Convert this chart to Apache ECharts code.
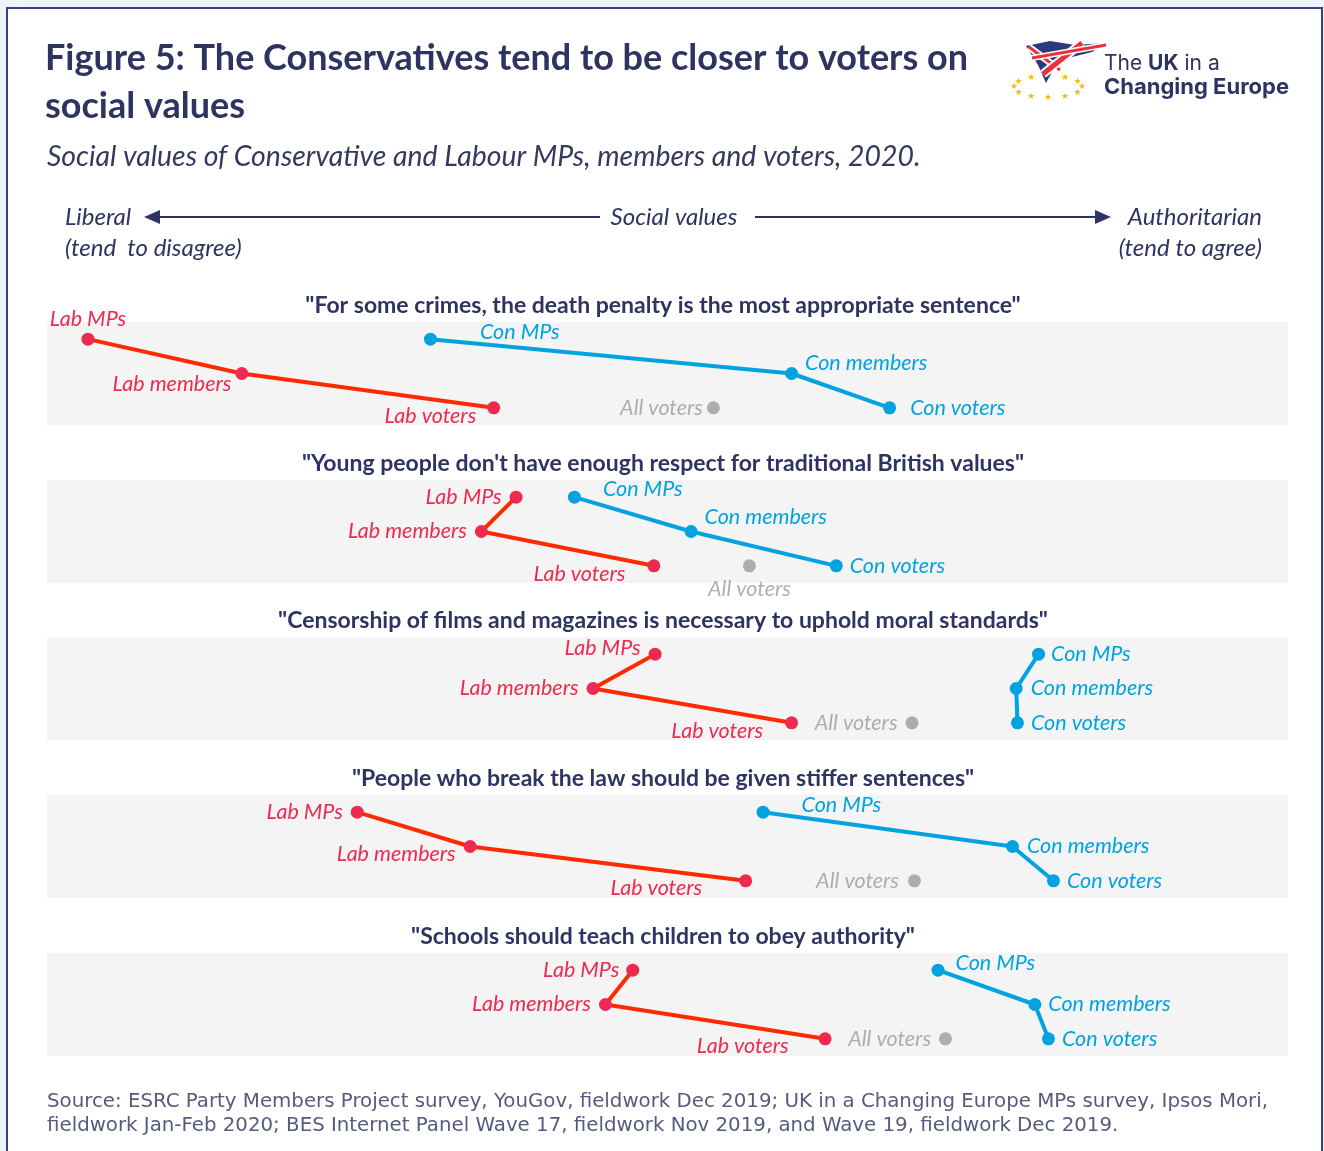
<!DOCTYPE html>
<html>
<head>
<meta charset="utf-8">
<title>Figure 5: Social values</title>
<script src="https://cdn.jsdelivr.net/npm/echarts@6.0.0/dist/echarts.min.js"></script>
<style>
  html, body { margin: 0; padding: 0; background: #eef4fc; }
  #chart { width: 1324px; height: 1151px; }
</style>
</head>
<body>
<div id="chart"></div>
<script>
// Survey statements, one panel each
const questions = [
  '"For some crimes, the death penalty is the most appropriate sentence"',
  '"Young people don\'t have enough respect for traditional British values"',
  '"Censorship of films and magazines is necessary to uphold moral standards"',
  '"People who break the law should be given stiffer sentences"',
  '"Schools should teach children to obey authority"'
];
// Rows within each panel
const groups = ['MPs', 'members', 'voters'];
// Position on the liberal (0) to authoritarian (100) scale: MPs, members, voters
const labScores = [
  [3.3, 15.7, 36.0],
  [37.8, 35.0, 48.9],
  [49.0, 44.0, 60.0],
  [25.0, 34.1, 56.3],
  [47.2, 45.0, 62.7]
];
const conScores = [
  [30.9, 60.0, 67.9],
  [42.5, 51.9, 63.6],
  [79.9, 78.1, 78.2],
  [57.7, 77.8, 81.1],
  [71.8, 79.6, 80.7]
];
const allVoterScores = [53.7, 56.6, 69.7, 69.9, 72.4];

// Label placement for each point: [position, distance, dx, dy]
const labLabelPlace = [
  [['top', 3, 0, 0], ['left', 4, 0, 11], ['left', 11, 0, 8]],
  [['left', 8, 0, 0], ['left', 8, 0, 0], ['left', 22, 0, 8]],
  [['left', 8, 0, -6], ['left', 8, 0, 0], ['left', 22, 0, 8]],
  [['left', 8, 0, 0], ['left', 8, 0, 8], ['left', 37, 0, 7]],
  [['left', 7, 0, 0], ['left', 8, 0, 0], ['left', 30, 0, 7]]
];
const conLabelPlace = [
  [['right', 43, 0, -7], ['right', 7, 0, -10], ['right', 14, 0, 0]],
  [['right', 22, 0, -8], ['right', 7, 0, -14], ['right', 7, 0, 0]],
  [['right', 6, 0, 0], ['right', 8, 0, 0], ['right', 7, 0, 0]],
  [['right', 32, 0, -7], ['right', 8, 0, 0], ['right', 7, 0, 0]],
  [['right', 11, 0, -7], ['right', 7, 0, 0], ['right', 7, 0, 0]]
];
const allLabelPlace = [
  ['left', 4, 0, 0], ['bottom', 6, 0, 0], ['left', 8, 0, 0], ['left', 9, 0, 0], ['left', 8, 0, 0]
];

const NAVY = '#2e3462';
const LAB_DOT = '#ee2a50';
const LAB_LINE = '#ff2a00';
const CON = '#00a3e0';
const GREY = '#9b9b9b';
const LABEL_FONT = 'Lato, "Open Sans", sans-serif';

const BAND_LEFT = 47, BAND_RIGHT = 36, BAND_H = 103;
const bandTops = [322, 480, 637, 795, 953];

function makeLabel(place, text, color) {
  return {
    show: true,
    position: place[0],
    distance: place[1],
    offset: [place[2], place[3]],
    formatter: text,
    color: color,
    fontFamily: LABEL_FONT,
    fontStyle: 'italic',
    fontSize: 21.5
  };
}

const grids = [], xAxes = [], yAxes = [], series = [];
questions.forEach((q, i) => {
  grids.push({
    left: BAND_LEFT, right: BAND_RIGHT, top: bandTops[i], height: BAND_H,
    show: true, backgroundColor: '#f4f4f4', borderWidth: 0
  });
  xAxes.push({ gridIndex: i, type: 'value', min: 0, max: 100, show: false });
  yAxes.push({ gridIndex: i, type: 'category', data: groups, inverse: true, show: false });

  series.push({
    name: 'Labour', type: 'line', xAxisIndex: i, yAxisIndex: i,
    symbol: 'circle', symbolSize: 13, silent: true, animation: false,
    lineStyle: { color: LAB_LINE, width: 4 },
    itemStyle: { color: LAB_DOT },
    data: groups.map((g, k) => ({
      value: [labScores[i][k], g],
      label: makeLabel(labLabelPlace[i][k], 'Lab ' + g, LAB_DOT)
    }))
  });
  series.push({
    name: 'Conservative', type: 'line', xAxisIndex: i, yAxisIndex: i,
    symbol: 'circle', symbolSize: 13, silent: true, animation: false,
    lineStyle: { color: CON, width: 4 },
    itemStyle: { color: CON },
    data: groups.map((g, k) => ({
      value: [conScores[i][k], g],
      label: makeLabel(conLabelPlace[i][k], 'Con ' + g, CON)
    }))
  });
  series.push({
    name: 'All voters', type: 'scatter', xAxisIndex: i, yAxisIndex: i,
    symbol: 'circle', symbolSize: 13, silent: true, animation: false,
    itemStyle: { color: GREY },
    data: [{
      value: [allVoterScores[i], 'voters'],
      label: makeLabel(allLabelPlace[i], 'All voters', GREY)
    }]
  });
});

// Panel headings, page text, axis arrows and logo
const HEAD_FONT = 'italic 24px Lato, sans-serif';
const graphics = [
  { type: 'rect', z: -10, shape: { x: 7, y: 8, width: 1315, height: 1200 },
    style: { fill: '#ffffff', stroke: '#3b3d86', lineWidth: 2 } },
  { type: 'text', x: 45, y: 58, style: { text: 'Figure 5: The Conservatives tend to be closer to voters on',
      fill: NAVY, font: 'bold 36px Lato, sans-serif', verticalAlign: 'middle' } },
  { type: 'text', x: 45, y: 106, style: { text: 'social values',
      fill: NAVY, font: 'bold 36px Lato, sans-serif', verticalAlign: 'middle' } },
  { type: 'text', x: 47, y: 157, style: { text: 'Social values of Conservative and Labour MPs, members and voters, 2020.',
      fill: '#34395e', font: 'italic 28.4px Lato, sans-serif', verticalAlign: 'middle' } },

  { type: 'text', x: 65, y: 217, style: { text: 'Liberal', fill: NAVY, font: HEAD_FONT, verticalAlign: 'middle' } },
  { type: 'text', x: 65, y: 248, style: { text: '(tend  to disagree)', fill: NAVY, font: HEAD_FONT, verticalAlign: 'middle' } },
  { type: 'text', x: 674, y: 217, style: { text: 'Social values', fill: NAVY, font: HEAD_FONT, align: 'center', verticalAlign: 'middle' } },
  { type: 'text', x: 1262, y: 217, style: { text: 'Authoritarian', fill: NAVY, font: HEAD_FONT, align: 'right', verticalAlign: 'middle' } },
  { type: 'text', x: 1262, y: 248, style: { text: '(tend to agree)', fill: NAVY, font: HEAD_FONT, align: 'right', verticalAlign: 'middle' } },
  { type: 'line', shape: { x1: 156, y1: 217, x2: 600, y2: 217 }, style: { stroke: NAVY, lineWidth: 2 } },
  { type: 'polygon', shape: { points: [[144, 217], [160, 210], [160, 224]] }, style: { fill: NAVY } },
  { type: 'line', shape: { x1: 755, y1: 217, x2: 1098, y2: 217 }, style: { stroke: NAVY, lineWidth: 2 } },
  { type: 'polygon', shape: { points: [[1111, 217], [1095, 210], [1095, 224]] }, style: { fill: NAVY } },

  { type: 'text', x: 47, y: 1102, style: { text: 'Source: ESRC Party Members Project survey, YouGov, fieldwork Dec 2019; UK in a Changing Europe MPs survey, Ipsos Mori,',
      fill: '#565b7e', font: '19.8px "DejaVu Sans", sans-serif', verticalAlign: 'middle' } },
  { type: 'text', x: 47, y: 1126, style: { text: 'fieldwork Jan-Feb 2020; BES Internet Panel Wave 17, fieldwork Nov 2019, and Wave 19, fieldwork Dec 2019.',
      fill: '#565b7e', font: '19.8px "DejaVu Sans", sans-serif', verticalAlign: 'middle' } }
];

questions.forEach((q, i) => {
  graphics.push({ type: 'text', x: 663, y: bandTops[i] - 16,
    style: { text: q, fill: NAVY, font: 'bold 23px Lato, sans-serif', align: 'center', verticalAlign: 'middle' } });
});

// Logo: ring of stars under a waving flag, with the wordmark beside it
for (let k = 0; k < 12; k++) {
  const a = k * Math.PI / 6;
  graphics.push({ type: 'text', x: 1048 + 34 * Math.cos(a), y: 87 + 11 * Math.sin(a),
    style: { text: '\u2605', fill: '#f5b720', font: '9px "DejaVu Sans"', align: 'center', verticalAlign: 'middle' } });
}
graphics.push(
  { type: 'polygon', shape: { points: [[1026, 46], [1050, 41], [1075, 45], [1107, 43], [1092, 52], [1068, 58], [1053, 70], [1046, 83], [1038, 65]] },
    style: { fill: '#2a3a7c' } },
  { type: 'line', shape: { x1: 1029, y1: 47, x2: 1060, y2: 70 }, style: { stroke: '#fff', lineWidth: 7 } },
  { type: 'line', shape: { x1: 1029, y1: 47, x2: 1060, y2: 70 }, style: { stroke: '#e8313b', lineWidth: 3 } },
  { type: 'line', shape: { x1: 1043, y1: 74, x2: 1082, y2: 43 }, style: { stroke: '#fff', lineWidth: 9 } },
  { type: 'line', shape: { x1: 1043, y1: 74, x2: 1082, y2: 43 }, style: { stroke: '#e8313b', lineWidth: 5 } },
  { type: 'line', shape: { x1: 1032, y1: 58, x2: 1106, y2: 45 }, style: { stroke: '#fff', lineWidth: 6 } },
  { type: 'line', shape: { x1: 1032, y1: 58, x2: 1106, y2: 45 }, style: { stroke: '#e8313b', lineWidth: 3 } },
  { type: 'text', x: 1104, y: 64, style: {
      text: '{n|The }{b|UK}{n| in a}', verticalAlign: 'middle',
      rich: {
        n: { fill: NAVY, font: '21px Inter, sans-serif' },
        b: { fill: NAVY, font: 'bold 21px Inter, sans-serif' }
      } } },
  { type: 'text', x: 1104, y: 87, style: { text: 'Changing Europe', fill: NAVY,
      font: 'bold 22px Inter, sans-serif', verticalAlign: 'middle' } }
);

const chart = echarts.init(document.getElementById('chart'), null, { renderer: 'canvas' });
chart.setOption({
  backgroundColor: '#eef4fc',
  animation: false,
  grid: grids,
  xAxis: xAxes,
  yAxis: yAxes,
  series: series,
  graphic: { elements: graphics }
});
</script>
</body>
</html>
